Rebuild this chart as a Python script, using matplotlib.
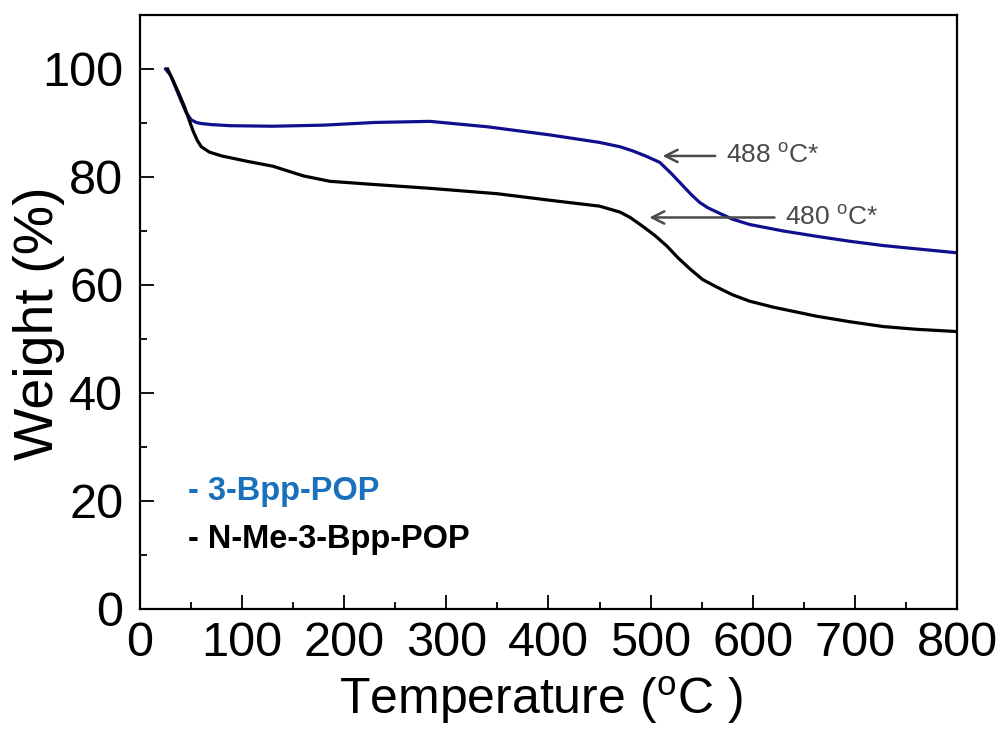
import matplotlib
matplotlib.use("Agg")
import matplotlib.pyplot as plt
from matplotlib.ticker import MultipleLocator

plt.rcParams['mathtext.default'] = 'regular'

# Data
temp_blue = [25, 30, 35, 40, 45, 50, 55, 60, 70, 88, 130, 180, 230, 284, 340, 401, 450, 470, 483, 495, 509, 520, 532, 540,
             548, 556, 565, 580, 597, 630, 663, 695, 728, 760, 798]
wt_blue   = [100.0, 98.8, 96.5, 94.2, 92.0, 90.6, 90.1, 89.9, 89.7, 89.5, 89.4, 89.6, 90.1, 90.3, 89.3, 87.8, 86.4, 85.6,
             84.8, 83.9, 82.7, 80.7, 78.3, 76.7, 75.3, 74.3, 73.5, 72.2, 71.2, 70.0, 69.0, 68.1, 67.3, 66.7, 66.0]

temp_black = [27, 32, 38, 44, 48, 52, 56, 60, 68, 80, 105, 130, 160, 186, 230, 284, 350, 401, 450, 470, 480, 492, 504, 516,
              527, 539, 551, 565, 580, 597, 620, 663, 695, 728, 760, 798]
wt_black   = [100.0, 98.0, 95.5, 92.8, 90.6, 88.5, 86.8, 85.6, 84.6, 83.9, 82.9, 82.0, 80.2, 79.2, 78.6, 77.9, 76.9, 75.7,
              74.6, 73.5, 72.5, 70.9, 69.2, 67.2, 65.0, 62.9, 61.0, 59.6, 58.2, 57.0, 55.9, 54.2, 53.2, 52.3, 51.8, 51.4]

label_blue = "- 3-Bpp-POP"
label_black = "- N-Me-3-Bpp-POP"

fam = ['Liberation Sans', 'DejaVu Sans']

fig = plt.figure(figsize=(10.03, 7.31), dpi=100)
ax = fig.add_axes([0.1396, 0.1669, 0.9541 - 0.1396, 0.9795 - 0.1669])

ax.plot(temp_blue, wt_blue, color='#10108f', lw=2.3)
ax.plot(temp_black, wt_black, color='black', lw=2.3)

ax.set_xlim(0, 800)
ax.set_ylim(0, 110)
ax.xaxis.set_major_locator(MultipleLocator(100))
ax.xaxis.set_minor_locator(MultipleLocator(50))
ax.yaxis.set_major_locator(MultipleLocator(20))
ax.yaxis.set_minor_locator(MultipleLocator(10))
ax.tick_params(which='both', direction='in', width=1.3, top=False, right=False)
ax.tick_params(which='major', length=10, labelsize=35)
ax.tick_params(axis='x', which='major', pad=9)
ax.tick_params(axis='y', which='major', pad=12)
ax.tick_params(which='minor', length=5)
for lab in ax.get_xticklabels() + ax.get_yticklabels():
    lab.set_family(fam)
for s in ax.spines.values():
    s.set_linewidth(1.6)

ax.set_xlabel("Temperature ($^{o}$C )", fontsize=36, family=fam)
ax.xaxis.label.set_va('baseline')
ax.xaxis.set_label_coords(0.49, -0.176)
ax.set_ylabel("Weight (%)", fontsize=40, family=fam)
ax.yaxis.set_label_coords(-0.092, 0.481)

# annotations
ax.annotate("", xy=(509, 83.9), xytext=(566, 83.9),
            arrowprops=dict(arrowstyle='->', color='#4a4a4a', lw=1.8, mutation_scale=22))
ax.text(574, 83.9, "488 $^{o}$C*", fontsize=19, color='#4a4a4a', family=fam, va='center', ha='left')
ax.annotate("", xy=(496, 72.5), xytext=(624, 72.5),
            arrowprops=dict(arrowstyle='->', color='#4a4a4a', lw=1.8, mutation_scale=22))
ax.text(632, 72.5, "480 $^{o}$C*", fontsize=19, color='#4a4a4a', family=fam, va='center', ha='left')

# legend-like texts
ax.text(47, 21.7, label_blue, fontsize=23.5, fontweight='bold', color='#1a70bb', family=fam, va='center', ha='left')
ax.text(47, 12.8, label_black, fontsize=23.5, fontweight='bold', color='black', family=fam, va='center', ha='left')

fig.savefig("out.png", dpi=100)
